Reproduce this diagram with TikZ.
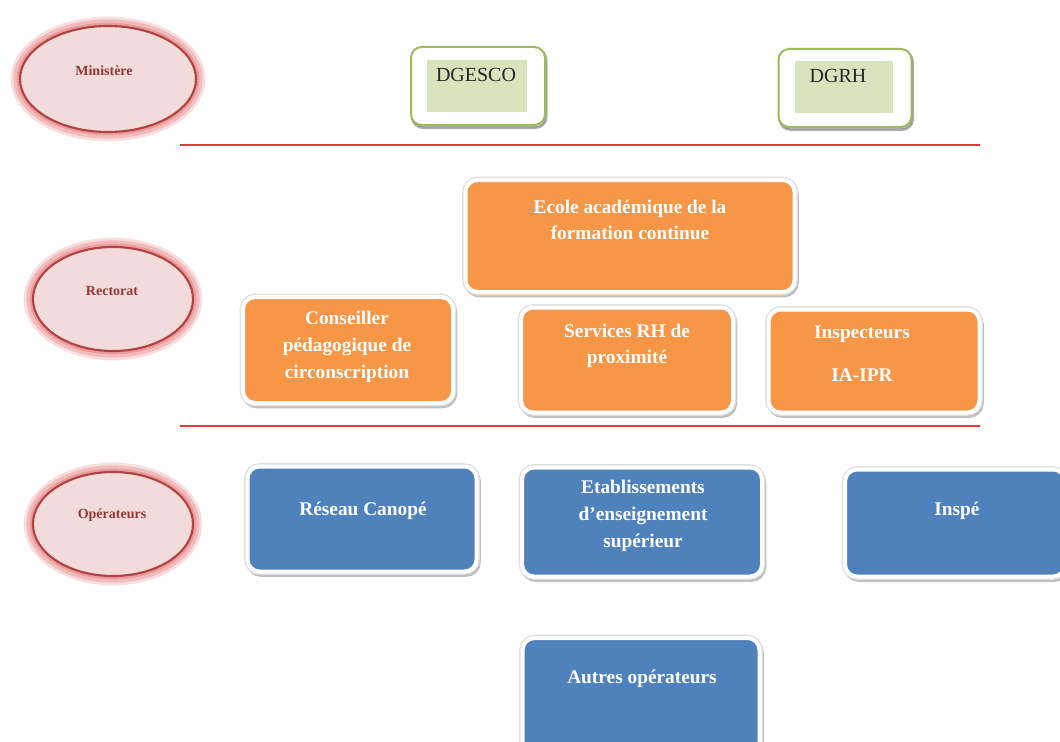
\documentclass[tikz,border=0pt]{standalone}
\usepackage{fontspec}
\setmainfont{Liberation Serif}
\usetikzlibrary{shapes.geometric, shadows}
\usetikzlibrary{positioning}
\usepackage{xcolor}

\definecolor{orgorange}{HTML}{F79646}
\definecolor{orgblue}{HTML}{4F81BD}
\definecolor{orggreen}{HTML}{9BBB59}
\definecolor{orggreenfill}{HTML}{D7E4BD}
\definecolor{niveaured}{HTML}{B24341}
\definecolor{niveaufill}{HTML}{F2DCDB}
\definecolor{niveautext}{HTML}{953735}
\definecolor{niveauglow}{HTML}{E57C7E}
\definecolor{seprouge}{HTML}{E8383D}

\tikzset{
  taille/.style 2 args={minimum width=#1*0.75pt, minimum height=#2*0.75pt},
  niveau/.style={ellipse, inner sep=0pt, draw=niveaured, line width=1.6pt, fill=niveaufill,
    preaction={draw=niveauglow, line width=14pt, draw opacity=0.25},
    preaction={draw=niveauglow, line width=10pt, draw opacity=0.35},
    preaction={draw=niveauglow, line width=5pt, draw opacity=0.5}},
  niveautxt/.style={text=niveautext, font=\fontsize{10.5}{12}\selectfont\bfseries},
  orgbox/.style={rectangle, inner sep=0pt, rounded corners=9pt, draw=white, line width=3pt,
    drop shadow={shadow xshift=1.2pt, shadow yshift=-2pt, opacity=0.25, draw=black, line width=4pt},
    preaction={draw=black!12, line width=5pt}},
  orangebox/.style={orgbox, fill=orgorange},
  bluebox/.style={orgbox, fill=orgblue},
  dirbox/.style={rectangle, inner sep=0pt, rounded corners=8pt, draw=orggreen, line width=1.5pt, fill=white,
    drop shadow={shadow xshift=1pt, shadow yshift=-2pt, opacity=0.3, draw=black, line width=2pt}},
  dirfond/.style={rectangle, inner sep=0pt, fill=orggreenfill},
  dirtxt/.style={text=black!85, font=\fontsize{15}{18}\selectfont},
  boxtxt/.style={text=white, align=center, font=\fontsize{14.5}{20}\selectfont\bfseries},
  separateur/.style={draw=seprouge, line width=1.1pt}
}

\begin{document}
\begin{tikzpicture}[x=0.75pt, y=-0.75pt]
\useasboundingbox (0,0) rectangle (1060,742);

% niveaux
\node[niveau, taille={176}{106}] (ministere) at (108,79) {};
\node[niveautxt] (ministeretxt) at (104,71) {Ministère};
\node[niveau, taille={160}{104}] (rectorat) at (113,299) {};
\node[niveautxt] (rectorattxt) at (112,291) {Rectorat};
\node[niveau, taille={160}{104}] (operateurs) at (113,524) {};
\node[niveautxt] (operateurstxt) at (112,515) {Opérateurs};

% separateurs
\coordinate (sepA1) at (180,145);
\coordinate (sepA2) at (980,145);
\coordinate (sepB1) at (180,426);
\coordinate (sepB2) at (980,426);
\draw[separateur] (sepA1) -- (sepA2);
\draw[separateur] (sepB1) -- (sepB2);

% ministere
\node[dirbox, taille={134}{78}] (dgesco) at (478,86) {};
\node[dirfond, taille={100}{52}] (dgescofond) at (477,86) {};
\node[dirtxt] (dgescotxt) at (476,75) {DGESCO};
\node[dirbox, taille={133}{78}] (dgrh) at (845,88) {};
\node[dirfond, taille={98}{52}] (dgrhfond) at (844,87) {};
\node[dirtxt] (dgrhtxt) at (838,76) {DGRH};

% rectorat
\node[orangebox, taille={329}{112}] (ecole) at (630,236) {};
\node[boxtxt] (ecoletxt) at (630,220) {Ecole académique de la\\formation continue};
\node[orangebox, taille={210}{106}] (conseiller) at (348,350) {};
\node[boxtxt] (conseillertxt) at (347,347) {Conseiller\\pédagogique de\\circonscription};
\node[orangebox, taille={212}{105}] (servicesrh) at (627,360) {};
\node[boxtxt] (servicesrhtxt) at (627,346) {Services RH de\\proximité};
\node[orangebox, taille={211}{103}] (inspecteurs) at (874,361) {};
\node[boxtxt] (inspecteurstxt) at (862,354) {Inspecteurs\\[12pt]IA-IPR};

% operateurs
\node[bluebox, taille={229}{105}] (canope) at (362,519) {};
\node[boxtxt] (canopetxt) at (363,511) {Réseau Canopé};
\node[bluebox, taille={240}{109}] (etablissements) at (642,522) {};
\node[boxtxt] (etablissementstxt) at (643,516) {Etablissements\\d’enseignement\\supérieur};
\node[bluebox, taille={220}{107}] (inspe) at (955,523) {};
\node[boxtxt] (inspetxt) at (957,511) {Inspé};
\node[bluebox, taille={237}{116}] (autres) at (641,696) {};
\node[boxtxt] (autrestxt) at (642,679) {Autres opérateurs};
\end{tikzpicture}
\end{document}
